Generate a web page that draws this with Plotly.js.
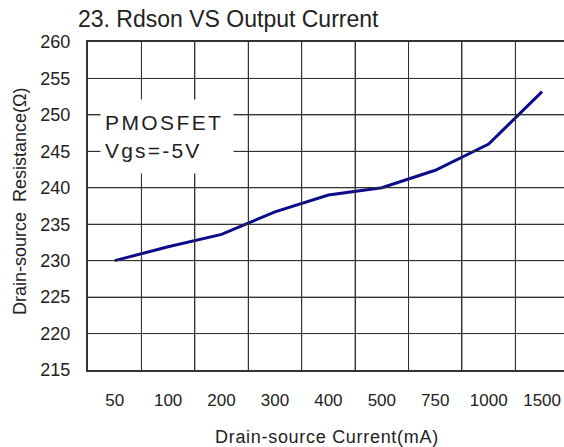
<!DOCTYPE html>
<html>
<head>
<meta charset="utf-8">
<script src="https://cdn.plot.ly/plotly-3.0.1.min.js"></script>
<style>html,body{margin:0;padding:0;background:#fff;}#chart{width:564px;height:447px;}</style>
</head>
<body>
<div id="chart"></div>
<script>
// Data
const currents = ['50', '100', '200', '300', '400', '500', '750', '1000', '1500'];
const rdson = [230.0, 231.9, 233.6, 236.7, 239.0, 240.0, 242.4, 246.0, 253.2];
const yTicks = [215, 220, 225, 230, 235, 240, 245, 250, 255, 260];

const FONT = 'Liberation Sans, Arial, sans-serif';
const GRID = '#333333';
const TXT = '#222222';

const trace = {
  x: currents,
  y: rdson,
  type: 'scatter',
  mode: 'lines',
  line: {color: '#0c0c8a', width: 3},
  hoverinfo: 'skip'
};

// Grid drawn explicitly from the axis categories / tick values
const gridShapes = [];
currents.slice(0, -1).forEach(function (c, i) {
  gridShapes.push({type: 'line', xref: 'x', yref: 'paper', x0: i + 0.5, x1: i + 0.5, y0: 0, y1: 1,
    line: {color: GRID, width: 1}, layer: 'above'});
});
yTicks.slice(1, -1).forEach(function (v) {
  gridShapes.push({type: 'line', xref: 'paper', yref: 'y', x0: 0, x1: 1, y0: v, y1: v,
    line: {color: GRID, width: 1}, layer: 'above'});
});

const layout = {
  width: 564,
  height: 447,
  margin: {l: 88, r: 0, t: 42, b: 77},
  showlegend: false,
  font: {family: FONT, color: TXT, size: 17},
  title: {
    text: '23. Rdson VS Output Current',
    font: {family: FONT, size: 23, color: TXT},
    xref: 'container', yref: 'container',
    x: 78 / 564, xanchor: 'left',
    y: 1 - 19 / 447, yanchor: 'middle'
  },
  xaxis: {
    type: 'category',
    categoryorder: 'array',
    categoryarray: currents,
    range: [-0.5, 8.41],
    tickson: 'boundaries',
    showgrid: true,
    gridcolor: GRID,
    gridwidth: 1,
    showline: true,
    mirror: true,
    linecolor: GRID,
    linewidth: 2,
    ticks: '',
    ticklabelstandoff: 14,
    tickfont: {family: FONT, size: 17, color: TXT},
    zeroline: false,
    fixedrange: true
  },
  yaxis: {
    range: [215, 260],
    tickvals: yTicks,
    ticktext: yTicks.map(String),
    showgrid: true,
    gridcolor: GRID,
    gridwidth: 1,
    showline: true,
    mirror: false,
    linecolor: GRID,
    linewidth: 2,
    ticks: '',
    ticklabelstandoff: 12,
    tickfont: {family: FONT, size: 18, color: TXT},
    zeroline: false,
    fixedrange: true
  },
  shapes: gridShapes,
  annotations: [
    {
      text: '<span style="letter-spacing:2.4px">PMOSFET</span><br><span style="letter-spacing:2.2px">Vgs=-5V</span>',
      xref: 'paper', yref: 'paper',
      x: 12 / 476, xanchor: 'left',
      y: 1 - 94.5 / 328, yanchor: 'middle',
      width: 124, height: 65,
      borderpad: 4,
      bgcolor: '#ffffff',
      align: 'left', valign: 'middle', showarrow: false,
      font: {family: FONT, size: 21, color: TXT}
    },
    {
      text: '<span style="letter-spacing:0.7px">Drain-source Current(mA)</span>',
      xref: 'paper', yref: 'paper',
      x: (327 - 88) / 476, xanchor: 'center',
      y: -(437 - 370) / 328, yanchor: 'middle',
      showarrow: false,
      font: {family: FONT, size: 18, color: TXT}
    },
    {
      text: 'Drain-source  Resistance(Ω)',
      xref: 'paper', yref: 'paper',
      x: -(88 - 20) / 476, xanchor: 'center',
      y: 1 - (201 - 42) / 328, yanchor: 'middle',
      textangle: -90,
      showarrow: false,
      font: {family: FONT, size: 18, color: TXT}
    }
  ]
};

Plotly.newPlot('chart', [trace], layout, {staticPlot: true});
</script>
</body>
</html>
